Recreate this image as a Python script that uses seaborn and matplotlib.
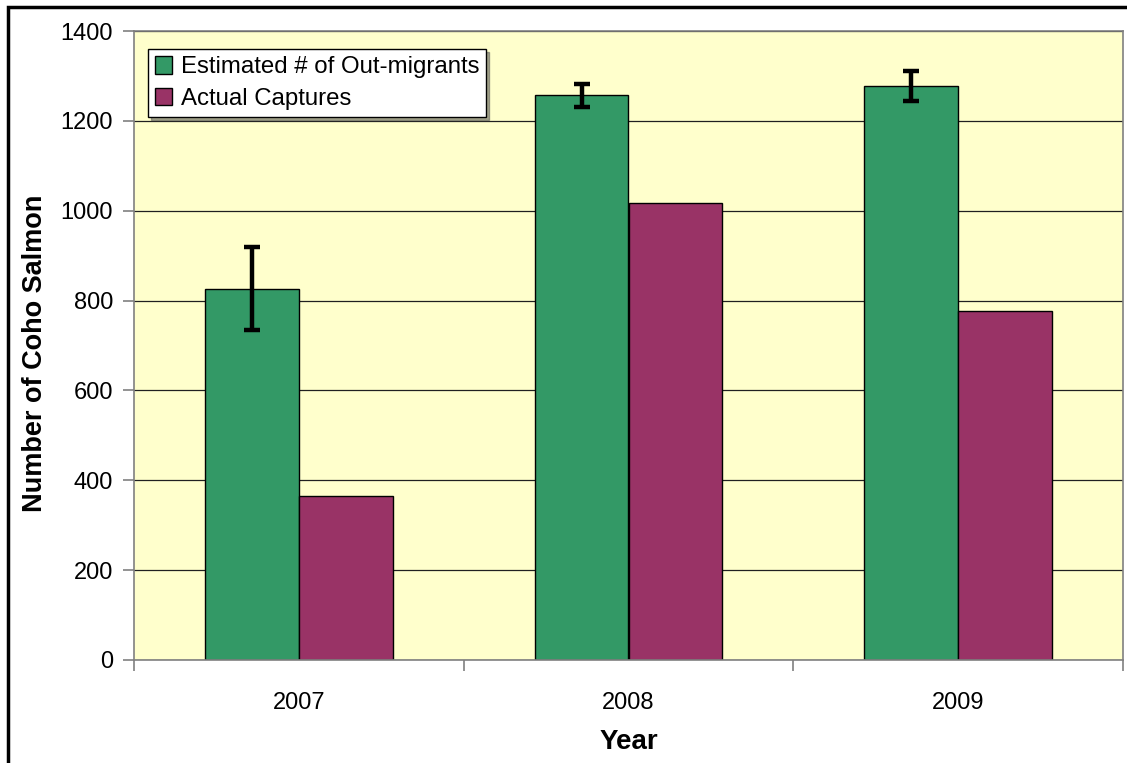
import matplotlib
matplotlib.use('Agg')
import matplotlib.pyplot as plt
import seaborn as sns
import pandas as pd
from matplotlib.patches import Rectangle
from matplotlib.ticker import FixedLocator

# ---- data ----
years = ['2007', '2008', '2009']
estimated = [826, 1258, 1278]
est_lower = [735, 1231, 1244]
est_upper = [920, 1281, 1310]
captures = [366, 1017, 777]
series = ['Estimated # of Out-migrants', 'Actual Captures']
colors = ['#339966', '#993366']
yticks = [0, 200, 400, 600, 800, 1000, 1200, 1400]

df = pd.DataFrame({
    'Year': years * 2,
    'Count': estimated + captures,
    'Series': [series[0]] * len(years) + [series[1]] * len(years),
})

sns.set_style('white')
plt.rcParams['font.family'] = ['Liberation Sans', 'DejaVu Sans']
plt.rcParams['text.color'] = 'black'
plt.rcParams['axes.labelcolor'] = 'black'

W, H = 1127, 763
fig = plt.figure(figsize=(W / 100, H / 100), dpi=100)
fig.patch.set_facecolor('white')
ax = fig.add_axes([134 / W, 103 / H, 989 / W, 629 / H])
ax.set_facecolor('#FFFFCC')

sns.barplot(data=df, x='Year', y='Count', hue='Series', palette=colors,
            width=0.57, edgecolor='black', linewidth=1, saturation=1,
            ax=ax, zorder=3)

# error bars on the estimated series
bars = ax.containers[0]
xs = [b.get_x() + b.get_width() / 2 for b in bars]
lo = [e - l for e, l in zip(estimated, est_lower)]
hi = [u - e for e, u in zip(estimated, est_upper)]
ax.errorbar(xs, estimated, yerr=[lo, hi], fmt='none', ecolor='black',
            elinewidth=3.2, capsize=6, capthick=3.2, zorder=5)

ax.set_ylim(0, 1400)
ax.set_xlim(-0.5, len(years) - 0.5)
ax.set_yticks(yticks)
ax.yaxis.grid(True, color='#202020', linewidth=0.9)
ax.set_axisbelow(True)

for s in ax.spines.values():
    s.set_color('#808080')
    s.set_linewidth(1.2)
    s.set_zorder(6)

ax.tick_params(axis='y', direction='out', length=8, width=1.2, color='#808080',
               labelcolor='black', labelsize=17, pad=7, left=True)
ax.tick_params(axis='x', which='major', length=0, labelsize=17, labelcolor='black',
               pad=23)
ax.xaxis.set_minor_locator(FixedLocator([i - 0.5 for i in range(len(years) + 1)]))
ax.tick_params(axis='x', which='minor', direction='out', length=8, width=1.2,
               color='#808080', bottom=True)

ax.set_xlabel('Year', fontsize=20, fontweight='bold', color='black')
ax.set_ylabel('Number of Coho Salmon', fontsize=19.5, fontweight='bold', color='black')
ax.xaxis.set_label_coords(0.5, -0.11)
ax.yaxis.set_label_coords(-0.087, 0.488)

handles, labels = ax.get_legend_handles_labels()
leg = ax.legend(handles, labels, loc='upper left', bbox_to_anchor=(0.014, 0.971),
                borderaxespad=0, fontsize=17.3, frameon=True, fancybox=False,
                shadow=True, handlelength=0.72, handleheight=0.72,
                handletextpad=0.35, labelspacing=0.4, borderpad=0.3)
leg.get_frame().set_edgecolor('black')
leg.get_frame().set_linewidth(1)
leg.get_frame().set_facecolor('white')
leg.set_zorder(10)

# outer frame (left and top edges visible)
fig.patches.append(Rectangle((7.5 / W, -0.1), 2, (H - 6.5) / H + 0.1,
                             transform=fig.transFigure, fill=False,
                             edgecolor='black', linewidth=2.5))

fig.savefig('out.png', dpi=100, facecolor='white')
